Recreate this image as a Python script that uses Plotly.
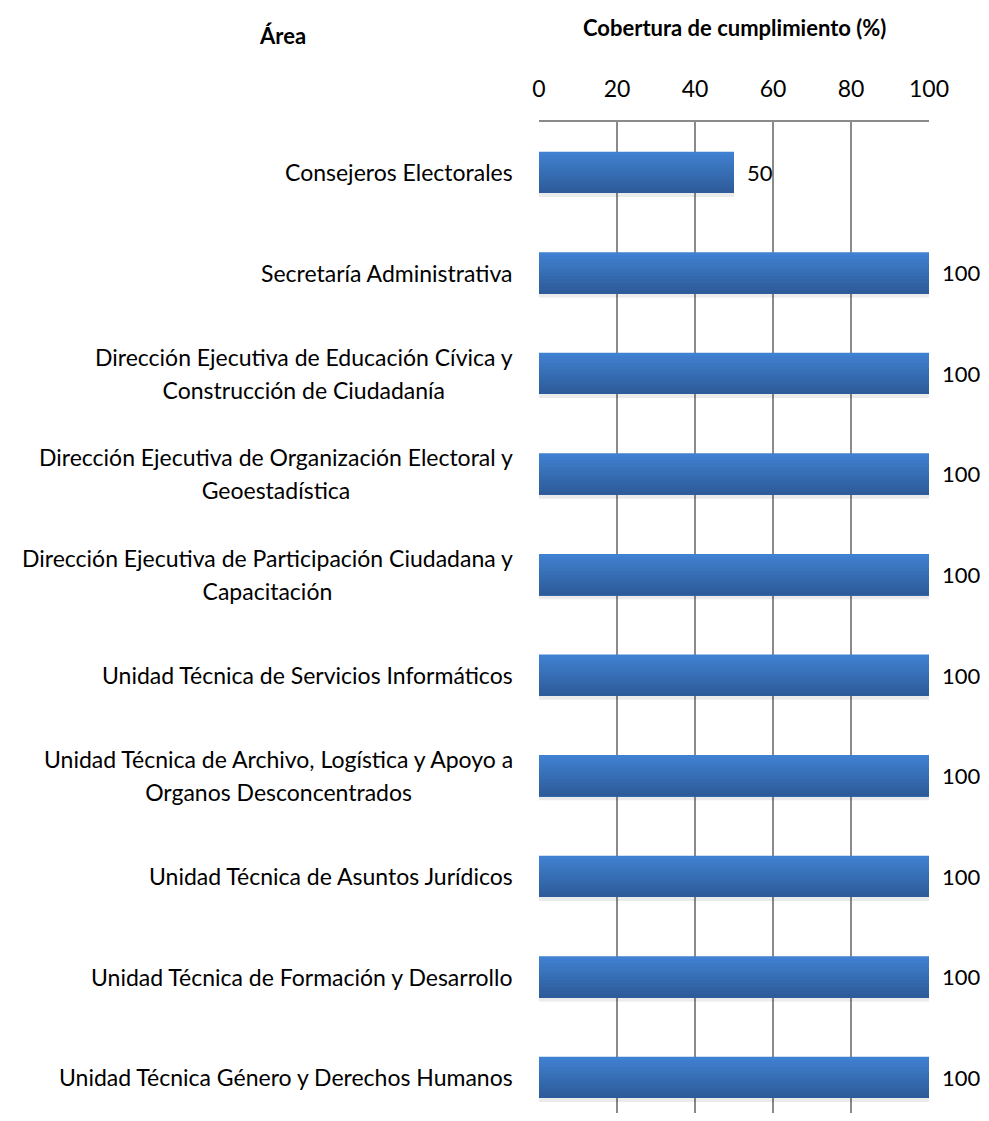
import plotly.graph_objects as go

# Areas (line breaks as in the original chart) and compliance coverage (%)
areas = [
    "Consejeros Electorales",
    "Secretaría Administrativa",
    "Dirección Ejecutiva de Educación Cívica y<br>Construcción de Ciudadanía",
    "Dirección Ejecutiva de Organización Electoral y<br>Geoestadística",
    "Dirección Ejecutiva de Participación Ciudadana y<br>Capacitación",
    "Unidad Técnica de Servicios Informáticos",
    "Unidad Técnica de Archivo, Logística y Apoyo a<br>Organos Desconcentrados",
    "Unidad Técnica de Asuntos Jurídicos",
    "Unidad Técnica de Formación y Desarrollo",
    "Unidad Técnica Género y Derechos Humanos",
]
coverage = [50, 100, 100, 100, 100, 100, 100, 100, 100, 100]
x_ticks = [0, 20, 40, 60, 80, 100]

FONT = "Lato"
FS = 23
GRID = "#8a8a8a"
TOP_COLOR = (64, 128, 208)
BOTTOM_COLOR = (46, 92, 154)

positions = list(range(len(areas)))
bar_w = 0.41
n_bands = 12

fig = go.Figure()

# Soft shadow under each bar
fig.add_trace(go.Bar(
    x=coverage, y=positions, orientation="h",
    width=bar_w, offset=-bar_w / 2 + 0.04,
    marker=dict(color="rgba(0,0,0,0.08)", line=dict(width=0)),
    hoverinfo="skip", showlegend=False,
))

# Vertical gradient: each band covers from its start down to the bar bottom
h = bar_w / n_bands
for i in range(n_bands):
    t = i / (n_bands - 1)
    c = tuple(round(a + (b - a) * t) for a, b in zip(TOP_COLOR, BOTTOM_COLOR))
    fig.add_trace(go.Bar(
        x=coverage, y=positions, orientation="h",
        width=bar_w - i * h, offset=-bar_w / 2 + i * h,
        marker=dict(color="rgb(%d,%d,%d)" % c, line=dict(width=0)),
        hoverinfo="skip", showlegend=False,
    ))

# Category labels: lines centered on each other, block right-aligned to the axis
for pos, label in zip(positions, areas):
    text = "<br>".join(
        '<span style="font-size:%dpx">%s</span>' % (FS, line)
        for line in label.split("<br>")
    )
    fig.add_annotation(
        x=0, xref="paper", y=pos, yref="y",
        text=text, showarrow=False, align="center",
        xanchor="right", yanchor="middle", xshift=-24,
        font=dict(family=FONT, size=25, color="#000000"),
    )

# Value labels
for pos, val in zip(positions, coverage):
    fig.add_annotation(
        x=val, y=pos, text=str(val), showarrow=False,
        xanchor="left", yanchor="middle", xshift=12, borderpad=0,
        font=dict(family=FONT, size=22, color="#000000"),
    )

# Titles
fig.add_annotation(
    x=0.5, xref="paper", y=1, yref="paper", yshift=95,
    text="<b>Cobertura de cumplimiento (%)</b>", showarrow=False,
    xanchor="center", yanchor="middle",
    font=dict(family=FONT, size=22, color="#000000"),
)
fig.add_annotation(
    x=0, xref="paper", y=1, yref="paper", xshift=-257, yshift=87,
    text="<b>Área</b>", showarrow=False,
    xanchor="center", yanchor="middle",
    font=dict(family=FONT, size=22, color="#000000"),
)

fig.update_layout(
    width=973, height=1105,
    margin=dict(l=531, r=52, t=114, b=0),
    paper_bgcolor="white", plot_bgcolor="white",
    barmode="overlay", showlegend=False,
    font=dict(family=FONT, color="#000000"),
)
fig.update_xaxes(
    side="top", range=[0, 100], tickvals=x_ticks,
    showgrid=True, gridcolor=GRID, gridwidth=1.5,
    zeroline=False, showline=True, linecolor=GRID, linewidth=1.5,
    ticks="", ticklabelstandoff=14,
    tickfont=dict(family=FONT, size=FS, color="#000000"),
)
fig.update_yaxes(
    range=[9.354, -0.5], showticklabels=False, showgrid=False,
    zeroline=False, showline=False,
)

fig.write_html("out.html")
